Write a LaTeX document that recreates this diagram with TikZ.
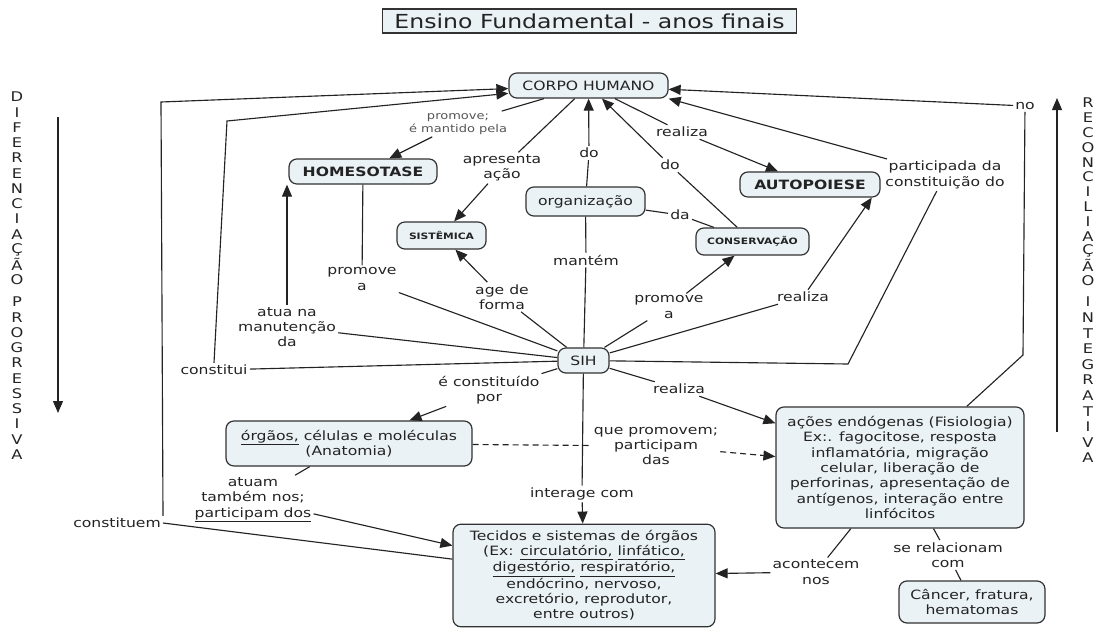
\documentclass[tikz,border=0pt]{standalone}
\usepackage{fontspec}
\setmainfont{DejaVu Sans}[FakeStretch=1.22]
\usetikzlibrary{arrows.meta,calc}

\definecolor{boxfill}{RGB}{234,242,246}
\definecolor{boxline}{RGB}{50,50,50}
\definecolor{ink}{RGB}{35,35,35}
\definecolor{softink}{RGB}{85,85,85}

\tikzset{
  concept/.style={draw=boxline, fill=boxfill, line width=0.9pt, rounded corners=6pt,
    text=ink, align=center, inner sep=2pt, font=\fontsize{9.6}{11.5}\selectfont},
  conceptbold/.style={concept, font=\fontsize{9.6}{11.5}\selectfont\bfseries},
  conceptsmall/.style={concept, font=\fontsize{6.6}{8}\selectfont\bfseries},
  titlebox/.style={draw=boxline, fill=boxfill, line width=0.8pt, text=ink,
    inner sep=1pt, font=\fontsize{14.5}{17}\selectfont},
  linkword/.style={text=ink, align=center, inner sep=1.5pt, font=\fontsize{9.6}{11.5}\selectfont},
  wire/.style={draw=ink, line width=0.85pt},
  wirearrow/.style={wire, -{Triangle[length=9pt,width=7.5pt]}},
  sideletter/.style={text=ink, inner sep=0pt, font=\fontsize{10}{11}\selectfont},
}

\begin{document}
\begin{tikzpicture}[x=0.75pt,y=-0.75pt]
\useasboundingbox (0,0) rectangle (1101,629);

% heading
\node[titlebox, minimum width=311pt, minimum height=18pt] (title) at (589.5,21) {Ensino Fundamental - anos finais};

% concepts
\node[concept, minimum width=119.3pt, minimum height=18.8pt] (corpo) at (588.5,85.5) {CORPO HUMANO};
\node[conceptbold, minimum width=111pt, minimum height=18.8pt] (homeo) at (363,171.5) {HOMESOTASE};
\node[conceptsmall, minimum width=66.8pt, minimum height=20.3pt] (sist) at (441.5,235.5) {SISTÊMICA};
\node[concept, minimum width=89.3pt, minimum height=21.8pt] (org) at (585.5,201.5) {organização};
\node[conceptsmall, minimum width=84.8pt, minimum height=20.3pt] (cons) at (752.5,241.5) {CONSERVAÇÃO};
\node[conceptbold, minimum width=105pt, minimum height=18.8pt] (autop) at (810,184.5) {AUTOPOIESE};
\node[concept, minimum width=38.3pt, minimum height=18.8pt] (sih) at (583.5,360.5) {SIH};
\node[concept, minimum width=184.5pt, minimum height=33.8pt] (orgaos) at (349,443.5)
  {\underline{órgãos,} células e moléculas\\(Anatomia)};
\node[concept, minimum width=186pt, minimum height=90.8pt] (acoes) at (900,467.5)
  {ações endógenas (Fisiologia)\\Ex:. fagocitose, resposta\\inflamatória, migração\\celular, liberação de\\perforinas, apresentação de\\antígenos, interação entre\\linfócitos};
\node[concept, minimum width=196.5pt, minimum height=77pt] (tec) at (584,575.5)
  {Tecidos e sistemas de órgãos\\(Ex: \underline{circulatório,} \underline{linfático,}\\\underline{digestório,} \underline{respiratório,}\\endócrino, nervoso,\\excretório, reprodutor,\\entre outros)};
\node[concept, minimum width=109.5pt, minimum height=31.5pt] (cancer) at (972,602) {Câncer, fratura,\\hematomas};

% linking words
\node[linkword, text=softink, font=\fontsize{8}{9.8}\selectfont] (lmantido) at (458,124) {promove;\\é mantido pela};
\node[linkword] (lapres) at (502,168) {apresenta\\ação};
\node[linkword] (ldo1) at (589,153) {do};
\node[linkword] (ldo2) at (670,165) {do};
\node[linkword] (lreal1) at (682,132) {realiza};
\node[linkword] (lpart) at (945,175) {participada da\\constituição do};
\node[linkword] (lno) at (1025,106) {no};
\node[linkword] (lda) at (680,215) {da};
\node[linkword] (lmantem) at (586,260) {mantém};
\node[linkword] (lage) at (502,297) {age de\\forma};
\node[linkword] (lprom1) at (362,279) {promove\\a};
\node[linkword] (lmanut) at (287,327) {atua na\\manutenção\\da};
\node[linkword] (lconstitui) at (214,370) {constitui};
\node[linkword] (lconstpor) at (489,390) {é constituído\\por};
\node[linkword] (lprom2) at (669,307) {promove\\a};
\node[linkword] (lreal2) at (803,297) {realiza};
\node[linkword] (lreal3) at (679,389) {realiza};
\node[linkword] (lque) at (656,446) {que promovem;\\participam\\das};
\node[linkword] (linter) at (582,494) {interage com};
\node[linkword] (latuam) at (253,500) {atuam\\também nos;\\\underline{participam dos}};
\node[linkword] (lconstituem) at (117,523) {constituem};
\node[linkword] (lacont) at (816,572) {acontecem\\nos};
\node[linkword] (lrelac) at (948,555) {se relacionam\\com};

% bend points
\coordinate (c1) at (161,102);
\coordinate (c2) at (227,121);
\coordinate (p1) at (848,364);
\coordinate (n1) at (1023,355);
\coordinate (ltop) at (58,117);
\coordinate (lbot) at (58,413);
\coordinate (rbot) at (1057,432);
\coordinate (rtop) at (1057,98);

% connectors
\draw[wire] (tec) -- (lconstituem.east);
\draw[wirearrow] (lconstituem.north east) -- (c1) -- (corpo);
\draw[wire] (sih) -- (lconstitui);
\draw[wirearrow] (lconstitui.north) -- (c2) -- (corpo);
\draw[wire] (corpo) -- (lmantido);
\draw[wirearrow] (lmantido) -- (homeo);
\draw[wire] (corpo) -- (lapres);
\draw[wirearrow] (lapres) -- (sist);
\draw[wire] (org) -- (ldo1);
\draw[wirearrow] (ldo1) -- (corpo);
\draw[wire] (cons) -- (ldo2);
\draw[wirearrow] (ldo2) -- (corpo);
\draw[wire] (corpo) -- (lreal1);
\draw[wirearrow] (lreal1) -- (autop);
\draw[wire] (sih) -- (p1) -- (lpart);
\draw[wirearrow] (lpart) -- (corpo.south east);
\draw[wire] (acoes) -- (n1) -- (lno);
\draw[wirearrow] (lno) -- (corpo);
\draw[wire] (org) -- (lda) -- (cons);
\draw[wire] (sih) -- (lmantem) -- (org);
\draw[wire] (sih) -- (lage);
\draw[wirearrow] (lage) -- (sist);
\draw[wire] (homeo) -- (lprom1) -- (sih);
\draw[wire] (sih) -- (lmanut);
\draw[wirearrow] (lmanut.north) -- (lmanut.north |- homeo.south);
\draw[wire] (sih) -- (lconstpor);
\draw[wirearrow] (lconstpor) -- (orgaos);
\draw[wire] (sih) -- (lprom2);
\draw[wirearrow] (lprom2) -- (cons);
\draw[wire] (sih) -- (lreal2);
\draw[wirearrow] (lreal2) -- (autop.-12);
\draw[wire] (sih) -- (lreal3);
\draw[wirearrow] (lreal3) -- (acoes);
\draw[wire] (sih) -- (linter);
\draw[wirearrow] (linter) -- (tec);
\draw[wire, dash pattern=on 4.5pt off 3pt] (orgaos) -- (lque);
\draw[wirearrow, dash pattern=on 4.5pt off 3pt] (lque) -- (acoes);
\draw[wire] (orgaos) -- (latuam);
\draw[wirearrow] (latuam) -- (tec);
\draw[wire] (acoes) -- (lacont);
\draw[wirearrow] (lacont) -- (tec);
\draw[wire] (acoes) -- (lrelac) -- (cancer);

% side arrows and their vertical captions
\draw[wirearrow] (ltop) -- (lbot);
\draw[wirearrow] (rbot) -- (rtop);
\foreach \ch [count=\i from 0] in {D,I,F,E,R,E,N,C,I,A,Ç,Ã,O}
  \node[sideletter] (da\i) at (17,{97+15.25*\i}) {\ch};
\foreach \ch [count=\i from 0] in {P,R,O,G,R,E,S,S,I,V,A}
  \node[sideletter] (db\i) at (17,{302+15.25*\i}) {\ch};
\foreach \ch [count=\i from 0] in {R,E,C,O,N,C,I,L,I,A,Ç,Ã,O}
  \node[sideletter] (ra\i) at (1088,{103+14.8*\i}) {\ch};
\foreach \ch [count=\i from 0] in {I,N,T,E,G,R,A,T,I,V,A}
  \node[sideletter] (rb\i) at (1088,{302+15.6*\i}) {\ch};
\end{tikzpicture}
\end{document}
